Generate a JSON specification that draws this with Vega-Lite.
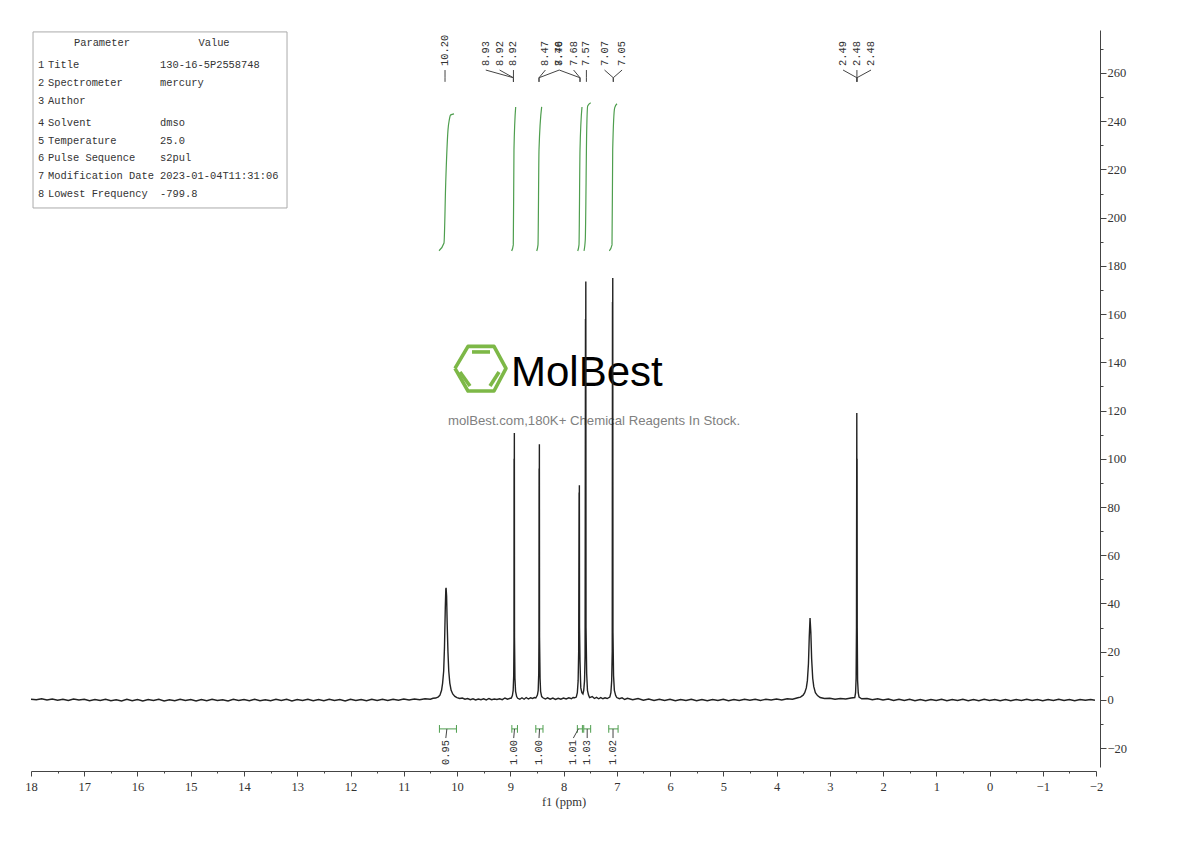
{"$schema":"https://vega.github.io/schema/vega-lite/v6.json","width":1065,"height":737,"autosize":{"type":"none"},"padding":{"left":31,"top":30,"right":94,"bottom":74},"background":"white","config":{"view":{"stroke":null},"axis":{"grid":false}},
"datasets":{
"spectrum":[{"p":18,"i":0.3},{"p":17.9,"i":0.1},{"p":17.8,"i":0.5},{"p":17.7,"i":0},{"p":17.6,"i":0.4},{"p":17.5,"i":-0.1},{"p":17.4,"i":0.3},{"p":17.3,"i":-0.2},{"p":17.2,"i":0.4},{"p":17.1,"i":0},{"p":17,"i":0.3},{"p":16.9,"i":-0.3},{"p":16.8,"i":0.2},{"p":16.7,"i":-0.2},{"p":16.6,"i":0.3},{"p":16.5,"i":-0.3},{"p":16.4,"i":0.1},{"p":16.3,"i":-0.4},{"p":16.2,"i":0.3},{"p":16.1,"i":-0.3},{"p":16,"i":0.2},{"p":15.9,"i":-0.4},{"p":15.8,"i":0.2},{"p":15.7,"i":-0.2},{"p":15.6,"i":0.3},{"p":15.5,"i":-0.4},{"p":15.4,"i":0.1},{"p":15.3,"i":-0.3},{"p":15.2,"i":0.3},{"p":15.1,"i":-0.2},{"p":15,"i":0.2},{"p":14.9,"i":-0.4},{"p":14.8,"i":0.2},{"p":14.7,"i":-0.3},{"p":14.6,"i":0.3},{"p":14.5,"i":-0.2},{"p":14.4,"i":0.1},{"p":14.3,"i":-0.4},{"p":14.2,"i":0.3},{"p":14.1,"i":-0.2},{"p":14,"i":0.2},{"p":13.9,"i":-0.3},{"p":13.8,"i":0.3},{"p":13.7,"i":-0.3},{"p":13.6,"i":0.1},{"p":13.5,"i":-0.3},{"p":13.4,"i":0.3},{"p":13.3,"i":-0.2},{"p":13.2,"i":0.3},{"p":13.1,"i":-0.4},{"p":13,"i":0.2},{"p":12.9,"i":-0.2},{"p":12.8,"i":0.3},{"p":12.7,"i":-0.3},{"p":12.6,"i":0.2},{"p":12.5,"i":-0.3},{"p":12.4,"i":0.3},{"p":12.3,"i":-0.2},{"p":12.2,"i":0.2},{"p":12.1,"i":-0.4},{"p":12,"i":0.3},{"p":11.9,"i":-0.2},{"p":11.8,"i":0.2},{"p":11.7,"i":-0.3},{"p":11.6,"i":0.3},{"p":11.5,"i":-0.2},{"p":11.4,"i":0.3},{"p":11.3,"i":-0.2},{"p":11.2,"i":0.3},{"p":11.1,"i":-0.1},{"p":11,"i":0.4},{"p":10.9,"i":0},{"p":10.8,"i":0.4},{"p":10.7,"i":0.1},{"p":10.6,"i":0.5},{"p":10.5,"i":0.3},{"p":10.45,"i":0.7},{"p":10.4,"i":0.8},{"p":10.35,"i":1.3},{"p":10.32,"i":2},{"p":10.29,"i":4},{"p":10.27,"i":7},{"p":10.25,"i":12},{"p":10.235,"i":22},{"p":10.22,"i":38},{"p":10.21,"i":46},{"p":10.205,"i":46.5},{"p":10.195,"i":43},{"p":10.185,"i":32},{"p":10.17,"i":20},{"p":10.155,"i":12},{"p":10.135,"i":7},{"p":10.11,"i":4},{"p":10.08,"i":2.5},{"p":10.04,"i":1.5},{"p":10,"i":1},{"p":9.95,"i":0.6},{"p":9.9,"i":0.8},{"p":9.85,"i":0.3},{"p":9.8,"i":0.6},{"p":9.75,"i":0.1},{"p":9.7,"i":0.5},{"p":9.65,"i":0},{"p":9.6,"i":0.4},{"p":9.55,"i":0.1},{"p":9.5,"i":0.5},{"p":9.45,"i":0},{"p":9.4,"i":0.6},{"p":9.35,"i":0.1},{"p":9.3,"i":0.4},{"p":9.25,"i":0.2},{"p":9.2,"i":0.5},{"p":9.15,"i":0.1},{"p":9.1,"i":0.8},{"p":9.05,"i":0.3},{"p":9,"i":0.7},{"p":8.98,"i":0.8},{"p":8.96,"i":1.8},{"p":8.945,"i":4},{"p":8.935,"i":10},{"p":8.93,"i":24},{"p":8.928,"i":100},{"p":8.926,"i":55},{"p":8.923,"i":110.7},{"p":8.92,"i":26},{"p":8.912,"i":9},{"p":8.9,"i":3.5},{"p":8.88,"i":1.4},{"p":8.86,"i":0.7},{"p":8.82,"i":0.3},{"p":8.78,"i":0.9},{"p":8.74,"i":0.3},{"p":8.7,"i":1},{"p":8.66,"i":0.4},{"p":8.62,"i":0.9},{"p":8.58,"i":0.6},{"p":8.55,"i":1},{"p":8.52,"i":0.8},{"p":8.49,"i":2},{"p":8.475,"i":4},{"p":8.465,"i":11},{"p":8.461,"i":25},{"p":8.458,"i":96},{"p":8.456,"i":55},{"p":8.453,"i":106},{"p":8.45,"i":26},{"p":8.44,"i":9},{"p":8.43,"i":3.5},{"p":8.41,"i":1.4},{"p":8.38,"i":0.8},{"p":8.34,"i":0.4},{"p":8.3,"i":0.9},{"p":8.25,"i":0.3},{"p":8.2,"i":0.8},{"p":8.15,"i":0.2},{"p":8.1,"i":0.7},{"p":8.05,"i":0.3},{"p":8,"i":0.8},{"p":7.95,"i":0.4},{"p":7.9,"i":0.9},{"p":7.85,"i":0.5},{"p":7.82,"i":1},{"p":7.79,"i":0.9},{"p":7.76,"i":1.2},{"p":7.74,"i":3},{"p":7.725,"i":8},{"p":7.715,"i":20},{"p":7.707,"i":86},{"p":7.705,"i":60},{"p":7.702,"i":89},{"p":7.699,"i":30},{"p":7.69,"i":16},{"p":7.68,"i":8},{"p":7.675,"i":5},{"p":7.655,"i":3},{"p":7.635,"i":2.5},{"p":7.62,"i":4},{"p":7.605,"i":8},{"p":7.595,"i":18},{"p":7.587,"i":158},{"p":7.585,"i":100},{"p":7.581,"i":173.5},{"p":7.577,"i":30},{"p":7.565,"i":11},{"p":7.55,"i":4},{"p":7.53,"i":2},{"p":7.51,"i":1},{"p":7.46,"i":1.4},{"p":7.42,"i":0.6},{"p":7.38,"i":1.1},{"p":7.34,"i":0.5},{"p":7.3,"i":1},{"p":7.26,"i":0.5},{"p":7.22,"i":0.9},{"p":7.18,"i":0.6},{"p":7.13,"i":1.2},{"p":7.11,"i":3},{"p":7.095,"i":8},{"p":7.085,"i":20},{"p":7.08,"i":165},{"p":7.078,"i":100},{"p":7.075,"i":175},{"p":7.071,"i":28},{"p":7.06,"i":10},{"p":7.045,"i":4},{"p":7.02,"i":1.8},{"p":7,"i":1},{"p":6.95,"i":0.5},{"p":6.9,"i":0.9},{"p":6.85,"i":0.2},{"p":6.8,"i":0.7},{"p":6.7,"i":0.1},{"p":6.6,"i":0.6},{"p":6.5,"i":-0.1},{"p":6.4,"i":0.4},{"p":6.3,"i":-0.2},{"p":6.2,"i":0.3},{"p":6.1,"i":-0.2},{"p":6,"i":0.3},{"p":5.9,"i":-0.3},{"p":5.8,"i":0.2},{"p":5.7,"i":-0.2},{"p":5.6,"i":0.3},{"p":5.5,"i":-0.3},{"p":5.4,"i":0.2},{"p":5.3,"i":-0.3},{"p":5.2,"i":0.2},{"p":5.1,"i":-0.2},{"p":5,"i":0.3},{"p":4.9,"i":-0.3},{"p":4.8,"i":0.2},{"p":4.7,"i":-0.2},{"p":4.6,"i":0.3},{"p":4.5,"i":-0.1},{"p":4.4,"i":0.3},{"p":4.3,"i":-0.2},{"p":4.2,"i":0.3},{"p":4.1,"i":0},{"p":4,"i":0.4},{"p":3.9,"i":0},{"p":3.8,"i":0.5},{"p":3.7,"i":0.3},{"p":3.6,"i":0.9},{"p":3.55,"i":1.2},{"p":3.5,"i":2},{"p":3.47,"i":3},{"p":3.44,"i":5},{"p":3.42,"i":8},{"p":3.4,"i":15},{"p":3.385,"i":26},{"p":3.37,"i":34},{"p":3.355,"i":28},{"p":3.34,"i":17},{"p":3.32,"i":9},{"p":3.3,"i":5.5},{"p":3.27,"i":3},{"p":3.23,"i":1.8},{"p":3.18,"i":1},{"p":3.1,"i":0.6},{"p":3,"i":0.7},{"p":2.9,"i":0.3},{"p":2.8,"i":0.6},{"p":2.7,"i":0.4},{"p":2.6,"i":0.8},{"p":2.53,"i":1},{"p":2.515,"i":3},{"p":2.505,"i":9},{"p":2.498,"i":30},{"p":2.496,"i":65},{"p":2.492,"i":119},{"p":2.49,"i":80},{"p":2.487,"i":100},{"p":2.484,"i":30},{"p":2.477,"i":8},{"p":2.465,"i":3},{"p":2.45,"i":1.2},{"p":2.4,"i":0.5},{"p":2.3,"i":0.6},{"p":2.2,"i":0.1},{"p":2.1,"i":0.5},{"p":2,"i":0},{"p":1.9,"i":0.4},{"p":1.8,"i":-0.2},{"p":1.7,"i":0.3},{"p":1.6,"i":-0.2},{"p":1.5,"i":0.3},{"p":1.4,"i":-0.3},{"p":1.3,"i":0.2},{"p":1.2,"i":-0.3},{"p":1.1,"i":0.2},{"p":1,"i":-0.2},{"p":0.9,"i":0.3},{"p":0.8,"i":-0.3},{"p":0.7,"i":0.2},{"p":0.6,"i":-0.2},{"p":0.5,"i":0.3},{"p":0.4,"i":-0.3},{"p":0.3,"i":0.2},{"p":0.2,"i":-0.3},{"p":0.1,"i":0.3},{"p":0,"i":-0.2},{"p":-0.1,"i":0.2},{"p":-0.2,"i":-0.3},{"p":-0.3,"i":0.2},{"p":-0.4,"i":-0.3},{"p":-0.5,"i":0.2},{"p":-0.6,"i":-0.2},{"p":-0.7,"i":0.3},{"p":-0.8,"i":-0.2},{"p":-0.9,"i":0.2},{"p":-1,"i":-0.3},{"p":-1.1,"i":0.2},{"p":-1.2,"i":-0.2},{"p":-1.3,"i":0.3},{"p":-1.4,"i":-0.2},{"p":-1.5,"i":0.2},{"p":-1.6,"i":-0.3},{"p":-1.7,"i":0.2},{"p":-1.8,"i":-0.1},{"p":-1.9,"i":0.2},{"p":-1.98,"i":-0.1}],
"integrals":[{"g":"a","p":10.338,"i":186.3},{"g":"a","p":10.244,"i":189.5},{"g":"a","p":10.212,"i":214.4},{"g":"a","p":10.169,"i":236.4},{"g":"a","p":10.145,"i":240.5},{"g":"a","p":10.118,"i":242.6},{"g":"a","p":10.056,"i":243},{"g":"b","p":8.973,"i":186.2},{"g":"b","p":8.943,"i":188.7},{"g":"b","p":8.93,"i":228.1},{"g":"b","p":8.898,"i":245.9},{"g":"c","p":8.503,"i":186.2},{"g":"c","p":8.479,"i":188.7},{"g":"c","p":8.46,"i":228.1},{"g":"c","p":8.41,"i":245.9},{"g":"d","p":7.733,"i":186.2},{"g":"d","p":7.709,"i":188.7},{"g":"d","p":7.69,"i":228.1},{"g":"d","p":7.653,"i":245.9},{"g":"e","p":7.615,"i":186.2},{"g":"e","p":7.591,"i":190.8},{"g":"e","p":7.564,"i":236.4},{"g":"e","p":7.546,"i":246.3},{"g":"e","p":7.489,"i":247.6},{"g":"f","p":7.14,"i":186.2},{"g":"f","p":7.089,"i":188.7},{"g":"f","p":7.076,"i":228.1},{"g":"f","p":7.039,"i":245.5},{"g":"f","p":6.995,"i":247.2}],
"brackets":[{"from":10.33,"to":10.01,"mid":10.19,"lab":10.21,"t":"0.95"},{"from":8.97,"to":8.865,"mid":8.92,"lab":8.935,"t":"1.00"},{"from":8.52,"to":8.385,"mid":8.45,"lab":8.46,"t":"1.00"},{"from":7.74,"to":7.645,"mid":7.72,"lab":7.815,"t":"1.01"},{"from":7.62,"to":7.49,"mid":7.555,"lab":7.555,"t":"1.03"},{"from":7.15,"to":6.975,"mid":7.07,"lab":7.07,"t":"1.02"}],
"peaks":[{"t":"10.20","lab":10.225,"peak":10.225},{"t":"8.93","lab":9.46,"peak":8.94},{"t":"8.92","lab":9.2,"peak":8.94},{"t":"8.92","lab":8.94,"peak":8.94},{"t":"8.47","lab":8.34,"peak":8.46},{"t":"8.46","lab":8.08,"peak":8.46},{"t":"7.70","lab":8.08,"peak":7.69},{"t":"7.68","lab":7.81,"peak":7.69},{"t":"7.57","lab":7.57,"peak":7.57},{"t":"7.07","lab":7.23,"peak":7.065},{"t":"7.05","lab":6.9,"peak":7.065},{"t":"2.49","lab":2.75,"peak":2.49},{"t":"2.48","lab":2.49,"peak":2.49},{"t":"2.48","lab":2.225,"peak":2.49}],
"table":[{"line":5,"num":"1","label":"Title","value":"130-16-5P2558748"},{"line":9,"num":"2","label":"Spectrometer","value":"mercury"},{"line":13,"num":"3","label":"Author","value":""},{"line":18,"num":"4","label":"Solvent","value":"dmso"},{"line":22,"num":"5","label":"Temperature","value":"25.0"},{"line":26,"num":"6","label":"Pulse Sequence","value":"s2pul"},{"line":30,"num":"7","label":"Modification Date","value":"2023-01-04T11:31:06"},{"line":34,"num":"8","label":"Lowest Frequency","value":"-799.8"}],
"logo":[{"s":"hex","o":0,"p":10.038,"i":137.5},{"s":"hex","o":1,"p":9.793,"i":146.6},{"s":"hex","o":2,"p":9.305,"i":146.6},{"s":"hex","o":3,"p":9.08,"i":137.5},{"s":"hex","o":4,"p":9.305,"i":128.1},{"s":"hex","o":5,"p":9.793,"i":128.1},{"s":"hex","o":6,"p":10.038,"i":137.5},{"s":"top","o":0,"p":9.718,"i":144.3},{"s":"top","o":1,"p":9.38,"i":144.3},{"s":"left","o":0,"p":9.944,"i":136},{"s":"left","o":1,"p":9.756,"i":130.2},{"s":"right","o":0,"p":9.211,"i":136},{"s":"right","o":1,"p":9.38,"i":130.2}]
},
"resolve":{"scale":{"y":"independent"},"axis":{"x":"independent","y":"independent"}},
"layer":[
{"resolve":{"axis":{"x":"independent","y":"independent"}},"layer":[
{"data":{"values":[{"v":17.5},{"v":16.5},{"v":15.5},{"v":14.5},{"v":13.5},{"v":12.5},{"v":11.5},{"v":10.5},{"v":9.5},{"v":8.5},{"v":7.5},{"v":6.5},{"v":5.5},{"v":4.5},{"v":3.5},{"v":2.5},{"v":1.5},{"v":0.5},{"v":-0.5},{"v":-1.5}]},"mark":{"type":"point","opacity":0},
"encoding":{"x":{"field":"v","type":"quantitative","scale":{"domain":[18,-2],"nice":false,"zero":false},"axis":{"orient":"bottom","offset":4,"values":[17.5,16.5,15.5,14.5,13.5,12.5,11.5,10.5,9.5,8.5,7.5,6.5,5.5,4.5,3.5,2.5,1.5,0.5,-0.5,-1.5],"labels":false,"domain":false,"title":null,"tickSize":2,"tickColor":"#444"}}}},
{"data":{"values":[{"v":-10},{"v":10},{"v":30},{"v":50},{"v":70},{"v":90},{"v":110},{"v":130},{"v":150},{"v":170},{"v":190},{"v":210},{"v":230},{"v":250},{"v":270}]},"mark":{"type":"point","opacity":0},
"encoding":{"y":{"field":"v","type":"quantitative","scale":{"domain":[-27.8,277.8],"nice":false,"zero":false},"axis":{"orient":"right","offset":4,"values":[-10,10,30,50,70,90,110,130,150,170,190,210,230,250,270],"labels":false,"domain":false,"title":null,"tickSize":3,"tickColor":"#444"}}}},
{"data":{"name":"logo"},"mark":{"type":"line","color":"#7DB847","strokeWidth":3.6,"strokeJoin":"round"},"encoding":{"x":{"field":"p","type":"quantitative","axis":null},"y":{"field":"i","type":"quantitative","axis":null},"detail":{"field":"s"},"order":{"field":"o"}}},
{"data":{"values":[{"t":"MolBest"}]},"mark":{"type":"text","font":"Liberation Sans","fontSize":42,"color":"#000","align":"left","baseline":"middle"},"encoding":{"x":{"datum":8.986,"axis":null},"y":{"datum":135.6,"axis":null},"text":{"field":"t"}}},
{"data":{"values":[{"t":"molBest.com,180K+ Chemical Reagents In Stock."}]},"mark":{"type":"text","font":"Liberation Sans","fontSize":13.2,"color":"#808080","align":"center","baseline":"middle"},"encoding":{"x":{"datum":7.427,"axis":null},"y":{"datum":115.7,"axis":null},"text":{"field":"t"}}},
{"data":{"name":"spectrum"},"mark":{"type":"line","color":"#222","strokeWidth":1.4},"encoding":{"x":{"field":"p","type":"quantitative","sort":null,"axis":{"orient":"bottom","offset":4,"values":[18,17,16,15,14,13,12,11,10,9,8,7,6,5,4,3,2,1,0,-1,-2],"format":"d","title":"f1 (ppm)","titleFont":"Liberation Serif","titleFontSize":12.5,"titleFontWeight":"normal","titleColor":"#333","titlePadding":3,"labelFont":"Liberation Serif","labelFontSize":12.5,"labelColor":"#333","labelPadding":4,"tickSize":5,"tickColor":"#444","domainColor":"#444","labelFlush":false,"labelOverlap":false}},"y":{"field":"i","type":"quantitative","axis":{"orient":"right","offset":4,"values":[-20,0,20,40,60,80,100,120,140,160,180,200,220,240,260],"format":"d","title":null,"labelFont":"Liberation Serif","labelFontSize":12.5,"labelColor":"#333","labelPadding":1,"tickSize":6,"tickColor":"#444","domainColor":"#444","labelOverlap":false}},"order":{"field":"p","sort":"descending"}}},
{"data":{"name":"integrals"},"mark":{"type":"line","color":"#4E9E4E","strokeWidth":1.2,"interpolate":"monotone"},"encoding":{"x":{"field":"p","type":"quantitative","axis":null},"y":{"field":"i","type":"quantitative","axis":null},"detail":{"field":"g"},"order":{"field":"p","sort":"descending"}}},
{"data":{"name":"brackets"},"mark":{"type":"rule","color":"#4E9E4E"},"encoding":{"x":{"field":"from","type":"quantitative","axis":null},"x2":{"field":"to"},"y":{"datum":-12,"axis":null}}},
{"data":{"name":"brackets"},"mark":{"type":"rule","color":"#4E9E4E"},"encoding":{"x":{"field":"from","type":"quantitative","axis":null},"y":{"datum":-10.4,"axis":null},"y2":{"datum":-13.6}}},
{"data":{"name":"brackets"},"mark":{"type":"rule","color":"#4E9E4E"},"encoding":{"x":{"field":"to","type":"quantitative","axis":null},"y":{"datum":-10.4,"axis":null},"y2":{"datum":-13.6}}},
{"data":{"name":"brackets"},"mark":{"type":"rule","color":"#444"},"encoding":{"x":{"field":"mid","type":"quantitative","axis":null},"x2":{"field":"lab"},"y":{"datum":-12,"axis":null},"y2":{"datum":-15.8}}},
{"data":{"name":"brackets"},"mark":{"type":"text","angle":270,"align":"left","baseline":"middle","font":"Liberation Mono","fontSize":10.4,"color":"#333"},"encoding":{"x":{"field":"lab","type":"quantitative","axis":null},"y":{"datum":-27,"axis":null},"text":{"field":"t"}}},
{"data":{"name":"peaks"},"mark":{"type":"rule","color":"#444"},"encoding":{"x":{"field":"lab","type":"quantitative","axis":null},"x2":{"field":"peak"},"y":{"datum":261.2,"axis":null},"y2":{"datum":258}}},
{"data":{"name":"peaks"},"mark":{"type":"rule","color":"#444"},"encoding":{"x":{"field":"peak","type":"quantitative","axis":null},"y":{"datum":258,"axis":null},"y2":{"datum":256.3}}},
{"data":{"name":"peaks"},"mark":{"type":"text","angle":270,"align":"left","baseline":"middle","font":"Liberation Mono","fontSize":10.4,"color":"#333"},"encoding":{"x":{"field":"lab","type":"quantitative","axis":null},"y":{"datum":262.9,"axis":null},"text":{"field":"t"}}},
{"data":{"values":[{"t":"Parameter table"}]},"mark":{"type":"rect","fill":"white","stroke":"#aaaaaa","strokeWidth":1},"encoding":{"x":{"datum":17.962,"axis":null},"x2":{"datum":13.192},"y":{"datum":277,"axis":null},"y2":{"datum":204}}}
]},
{"data":{"name":"table"},"layer":[
{"mark":{"type":"text","align":"left","baseline":"middle","font":"Liberation Mono","fontSize":10.4,"color":"#333"},"encoding":{"x":{"datum":17.869,"axis":null},"y":{"field":"line","type":"quantitative","scale":{"domain":[0,34],"range":[13,164],"nice":false,"zero":false},"axis":null},"text":{"field":"num"}}},
{"mark":{"type":"text","align":"left","baseline":"middle","font":"Liberation Mono","fontSize":10.4,"color":"#333"},"encoding":{"x":{"datum":17.681,"axis":null},"y":{"field":"line","type":"quantitative","axis":null},"text":{"field":"label"}}},
{"mark":{"type":"text","align":"left","baseline":"middle","font":"Liberation Mono","fontSize":10.4,"color":"#333"},"encoding":{"x":{"datum":15.577,"axis":null},"y":{"field":"line","type":"quantitative","axis":null},"text":{"field":"value"}}},
{"data":{"values":[{"line":0,"h":"Parameter"}]},"mark":{"type":"text","align":"center","baseline":"middle","font":"Liberation Mono","fontSize":10.4,"color":"#333"},"encoding":{"x":{"datum":16.667,"axis":null},"y":{"field":"line","type":"quantitative","axis":null},"text":{"field":"h"}}},
{"data":{"values":[{"line":0,"h":"Value"}]},"mark":{"type":"text","align":"center","baseline":"middle","font":"Liberation Mono","fontSize":10.4,"color":"#333"},"encoding":{"x":{"datum":14.563,"axis":null},"y":{"field":"line","type":"quantitative","axis":null},"text":{"field":"h"}}}
]}
]}
